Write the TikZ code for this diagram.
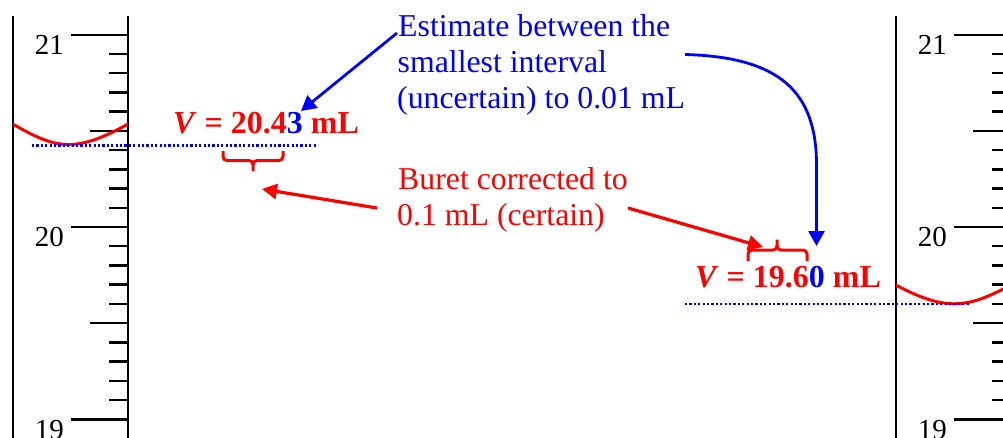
\documentclass[tikz,border=0pt]{standalone}
\usepackage{fontspec}
\setmainfont{Liberation Serif}
\usetikzlibrary{arrows.meta}
\begin{document}
\begin{tikzpicture}[x=1pt,y=-1pt,
  wall/.style={black,line width=2.2pt},
  tickmark/.style={black,line width=2.4pt},
  meniscus/.style={red,line width=3pt},
  readline/.style={blue,line width=2.2pt,dash pattern=on 2.2pt off 2.2pt},
  scalelbl/.style={font=\fontsize{29}{34}\selectfont,inner sep=0pt,anchor=base east},
  notetxt/.style={font=\fontsize{31.8}{37}\selectfont,inner sep=0pt,anchor=base west},
  readtxt/.style={font=\fontsize{32}{38}\selectfont\bfseries,inner sep=0pt,anchor=base west,text=red},
  bluearrow/.style={blue,line width=2.8pt,-{Triangle[length=15pt,width=16pt]}},
  redarrow/.style={red,line width=3.2pt,-{Triangle[length=15pt,width=15pt]}},
  bracestyle/.style={red,line width=3pt,rounded corners=4pt}]
\useasboundingbox (0,0) rectangle (1003,437);
\clip (0,0) rectangle (1003,437);
% burets
\foreach \ox in {0,883}{
  \begin{scope}[xshift=\ox]
    \draw[wall] (13,16) -- (13,440);
    \draw[wall] (128,16) -- (128,440);
    \foreach \k in {0,...,20}{
      \pgfmathsetmacro{\yy}{34.7+\k*19.23}
      \pgfmathtruncatemacro{\mm}{mod(\k,10)}
      \pgfmathtruncatemacro{\hh}{mod(\k,5)}
      \ifnum\mm=0
        \draw[tickmark] (71,\yy) -- (128,\yy);
      \else\ifnum\hh=0
        \draw[tickmark] (90,\yy) -- (128,\yy);
      \else
        \draw[tickmark] (109,\yy) -- (128,\yy);
      \fi\fi
    }
    \node[scalelbl] (l21\ox) at (64,54) {21};
    \node[scalelbl] (l20\ox) at (64,246.5) {20};
    \node[scalelbl] (l19\ox) at (64,439) {19};
  \end{scope}
}
% meniscus left
\begin{scope}
  \clip (13,100) rectangle (128,160);
  \draw[meniscus] (11,123) .. controls (35,137) and (52,145) .. (70,144.5) .. controls (90,144) and (110,134) .. (130,123);
\end{scope}
% meniscus right
\begin{scope}
  \clip (896,260) rectangle (1011,320);
  \draw[meniscus] (894,284) .. controls (918,297) and (937,304) .. (955,303.8) .. controls (974,303.5) and (990,296) .. (1013,284);
\end{scope}
% reading lines
\coordinate (rl1) at (32,145.5);
\coordinate (rl2) at (318,145.5);
\draw[readline] (rl1) -- (rl2);
\coordinate (rr1) at (685,304.3);
\coordinate (rr2) at (970,304.3);
\draw[readline] (rr1) -- (rr2);
% readings
\node[readtxt] (vleft) at (173,133) {\textit{V} = 20.4\textcolor{blue}{3} mL};
\node[readtxt] (vright) at (695,287) {\textit{V} = 19.6\textcolor{blue}{0} mL};
% braces
\draw[bracestyle] (223,151) -- (223,160.5) -- (253,160.5) -- (253,171);
\draw[bracestyle] (253,165) -- (253,160.5) -- (283,160.5) -- (283,151);
\draw[bracestyle] (748,261) -- (748,250) -- (777,250) -- (777,239.5);
\draw[bracestyle] (777,245) -- (777,250) -- (807,250) -- (807,261);
% notes
\node[notetxt,text=blue] (est1) at (398,36) {Estimate between the};
\node[notetxt,text=blue] (est2) at (397.5,72.5) {smallest interval};
\node[notetxt,text=blue] (est3) at (397,108) {(uncertain) to 0.01 mL};
\node[notetxt,text=red] (bur1) at (398,189.5) {Buret corrected to};
\node[notetxt,text=red] (bur2) at (397,225.5) {0.1 mL (certain)};
% arrows
\coordinate (ba1s) at (397,33);
\coordinate (ba1e) at (301,111);
\draw[bluearrow] (ba1s) -- (ba1e);
\coordinate (ba2s) at (685,54.5);
\coordinate (ba2m) at (816.5,165);
\coordinate (ba2e) at (816.5,246);
\draw[bluearrow] (ba2s) .. controls (780,57) and (816.5,92) .. (ba2m) -- (ba2e);
\coordinate (ra1s) at (377,208);
\coordinate (ra1e) at (262,189);
\draw[redarrow] (ra1s) -- (ra1e);
\coordinate (ra2s) at (628,208);
\coordinate (ra2e) at (763,247);
\draw[redarrow] (ra2s) -- (ra2e);
\end{tikzpicture}
\end{document}
